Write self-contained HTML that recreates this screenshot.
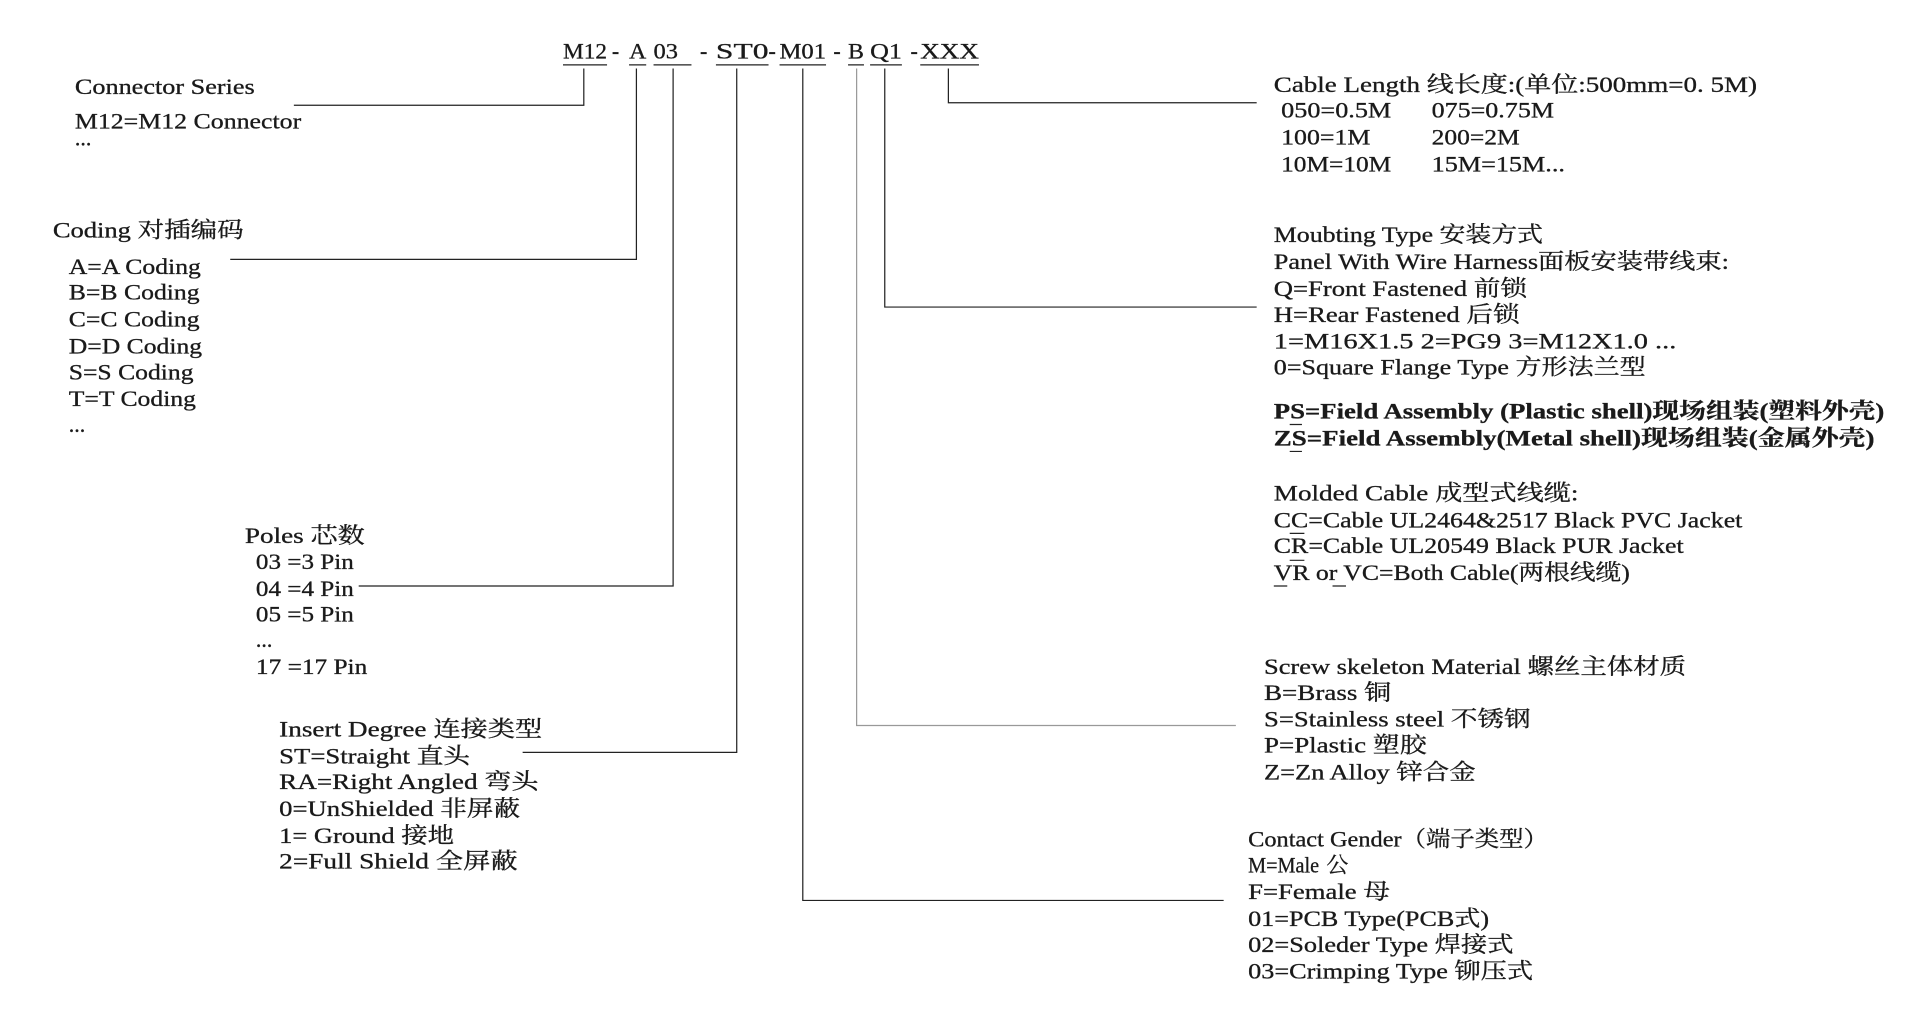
<!DOCTYPE html>
<html><head><meta charset="utf-8"><style>
html,body{margin:0;padding:0;background:#fff;width:1920px;height:1035px;overflow:hidden}
svg{display:block}
text{font-family:"Liberation Serif","Noto Serif CJK SC","Noto Sans CJK SC",serif;font-size:18px;fill:#1a1a1a;stroke:#1a1a1a;stroke-width:0.25}
.b{font-weight:bold}
.t{font-size:20px}
</style></head><body>
<svg width="1920" height="1035" viewBox="0 0 1569 846" xmlns="http://www.w3.org/2000/svg">
<g transform="translate(0,1)">
<g stroke="#222" stroke-width="1" fill="none">
<path d="M460 52H496M514 52H528M534 52H565M585 52H628M637 52H675M693 52H706M711 52H737M752 52H800"/>
<path d="M477 55V85H240"/>
<path d="M520 55V211H188"/>
<path d="M550 55V478H293"/>
<path d="M602 55V614H427"/>
<path d="M656 55V735H1000"/>
<path d="M723 55V250H1027"/>
<path d="M775 55V83H1027"/>
</g>
<path d="M700 55V592H1010" stroke="#999" stroke-width="1" fill="none"/>

<g class="t">
<text x="460" y="47" textLength="36" lengthAdjust="spacingAndGlyphs">M12</text>
<text x="500" y="47">-</text>
<text x="514" y="47" textLength="14" lengthAdjust="spacingAndGlyphs">A</text>
<text x="534" y="47" textLength="20" lengthAdjust="spacingAndGlyphs">03</text>
<text x="572" y="47">-</text>
<text x="585" y="47" textLength="43" lengthAdjust="spacingAndGlyphs">ST0</text>
<text x="628" y="47">-</text>
<text x="637" y="47" textLength="38" lengthAdjust="spacingAndGlyphs">M01</text>
<text x="681" y="47">-</text>
<text x="693" y="47" textLength="13" lengthAdjust="spacingAndGlyphs">B</text>
<text x="711" y="47" textLength="26" lengthAdjust="spacingAndGlyphs">Q1</text>
<text x="744" y="47">-</text>
<text x="752" y="47" textLength="48" lengthAdjust="spacingAndGlyphs">XXX</text>
</g>

<g>
<text x="61" y="76" textLength="147" lengthAdjust="spacingAndGlyphs">Connector Series</text>
<text x="61" y="104" textLength="185" lengthAdjust="spacingAndGlyphs">M12=M12 Connector</text>
<text x="61" y="118">...</text>

<text x="43" y="193" textLength="156" lengthAdjust="spacingAndGlyphs">Coding 对插编码</text>
<text x="56" y="223" textLength="108" lengthAdjust="spacingAndGlyphs">A=A Coding</text>
<text x="56" y="244" textLength="107" lengthAdjust="spacingAndGlyphs">B=B Coding</text>
<text x="56" y="266" textLength="107" lengthAdjust="spacingAndGlyphs">C=C Coding</text>
<text x="56" y="288" textLength="109" lengthAdjust="spacingAndGlyphs">D=D Coding</text>
<text x="56" y="309" textLength="102" lengthAdjust="spacingAndGlyphs">S=S Coding</text>
<text x="56" y="331" textLength="104" lengthAdjust="spacingAndGlyphs">T=T Coding</text>
<text x="56" y="352">...</text>

<text x="200" y="443" textLength="98" lengthAdjust="spacingAndGlyphs">Poles 芯数</text>
<text x="209" y="464" textLength="80" lengthAdjust="spacingAndGlyphs">03 =3 Pin</text>
<text x="209" y="486" textLength="80" lengthAdjust="spacingAndGlyphs">04 =4 Pin</text>
<text x="209" y="507" textLength="80" lengthAdjust="spacingAndGlyphs">05 =5 Pin</text>
<text x="209" y="528">...</text>
<text x="209" y="550" textLength="91" lengthAdjust="spacingAndGlyphs">17 =17 Pin</text>

<text x="228" y="601" textLength="215" lengthAdjust="spacingAndGlyphs">Insert  Degree  连接类型</text>
<text x="228" y="623" textLength="156" lengthAdjust="spacingAndGlyphs">ST=Straight  直头</text>
<text x="228" y="644" textLength="212" lengthAdjust="spacingAndGlyphs">RA=Right  Angled  弯头</text>
<text x="228" y="666" textLength="197" lengthAdjust="spacingAndGlyphs">0=UnShielded  非屏蔽</text>
<text x="228" y="688" textLength="143" lengthAdjust="spacingAndGlyphs">1= Ground  接地</text>
<text x="228" y="709" textLength="195" lengthAdjust="spacingAndGlyphs">2=Full  Shield  全屏蔽</text>

<text x="1041" y="74" textLength="395" lengthAdjust="spacingAndGlyphs">Cable Length 线长度:(单位:500mm=0. 5M)</text>
<text x="1047" y="95" textLength="90" lengthAdjust="spacingAndGlyphs">050=0.5M</text>
<text x="1170" y="95" textLength="100" lengthAdjust="spacingAndGlyphs">075=0.75M</text>
<text x="1047" y="117" textLength="73" lengthAdjust="spacingAndGlyphs">100=1M</text>
<text x="1170" y="117" textLength="72" lengthAdjust="spacingAndGlyphs">200=2M</text>
<text x="1047" y="139" textLength="90" lengthAdjust="spacingAndGlyphs">10M=10M</text>
<text x="1170" y="139" textLength="109" lengthAdjust="spacingAndGlyphs">15M=15M...</text>

<text x="1041" y="197" textLength="220" lengthAdjust="spacingAndGlyphs">Moubting Type 安装方式</text>
<text x="1041" y="219" textLength="372" lengthAdjust="spacingAndGlyphs">Panel With Wire Harness面板安装带线束:</text>
<text x="1041" y="241" textLength="207" lengthAdjust="spacingAndGlyphs">Q=Front Fastened  前锁</text>
<text x="1041" y="262" textLength="201" lengthAdjust="spacingAndGlyphs">H=Rear Fastened  后锁</text>
<text x="1041" y="284" textLength="329" lengthAdjust="spacingAndGlyphs">1=M16X1.5   2=PG9   3=M12X1.0    ...</text>
<text x="1041" y="305" textLength="304" lengthAdjust="spacingAndGlyphs">0=Square Flange Type 方形法兰型</text>

<text class="b" x="1041" y="341" textLength="499" lengthAdjust="spacingAndGlyphs">PS=Field Assembly (Plastic shell)现场组装(塑料外壳)</text>
<text class="b" x="1041" y="363" textLength="491" lengthAdjust="spacingAndGlyphs">ZS=Field Assembly(Metal shell)现场组装(金属外壳)</text>
<path d="M1054 346H1064M1054 368H1064M1054 435H1066M1054 457H1066M1041 478H1052M1089 478H1100" stroke="#222"/>

<text x="1041" y="408" textLength="249" lengthAdjust="spacingAndGlyphs">Molded  Cable 成型式线缆:</text>
<text x="1041" y="430" textLength="383" lengthAdjust="spacingAndGlyphs">CC=Cable UL2464&amp;2517 Black PVC Jacket</text>
<text x="1041" y="451" textLength="335" lengthAdjust="spacingAndGlyphs">CR=Cable UL20549 Black PUR Jacket</text>
<text x="1041" y="473" textLength="291" lengthAdjust="spacingAndGlyphs">VR or VC=Both Cable(两根线缆)</text>

<text x="1033" y="550" textLength="345" lengthAdjust="spacingAndGlyphs">Screw skeleton Material  螺丝主体材质</text>
<text x="1033" y="571" textLength="104" lengthAdjust="spacingAndGlyphs">B=Brass  铜</text>
<text x="1033" y="593" textLength="218" lengthAdjust="spacingAndGlyphs">S=Stainless steel  不锈钢</text>
<text x="1033" y="614" textLength="133" lengthAdjust="spacingAndGlyphs">P=Plastic  塑胶</text>
<text x="1033" y="636" textLength="173" lengthAdjust="spacingAndGlyphs">Z=Zn Alloy  锌合金</text>

<text x="1020" y="691" textLength="245" lengthAdjust="spacingAndGlyphs">Contact Gender（端子类型）</text>
<text x="1020" y="712" textLength="58" lengthAdjust="spacingAndGlyphs">M=Male</text>
<text x="1084" y="712">公</text>
<text x="1020" y="734" textLength="116" lengthAdjust="spacingAndGlyphs">F=Female  母</text>
<text x="1020" y="756" textLength="197" lengthAdjust="spacingAndGlyphs">01=PCB Type(PCB式)</text>
<text x="1020" y="777" textLength="217" lengthAdjust="spacingAndGlyphs">02=Soleder Type  焊接式</text>
<text x="1020" y="799" textLength="233" lengthAdjust="spacingAndGlyphs">03=Crimping Type  铆压式</text>
</g>
</g>
</svg>
</body></html>
